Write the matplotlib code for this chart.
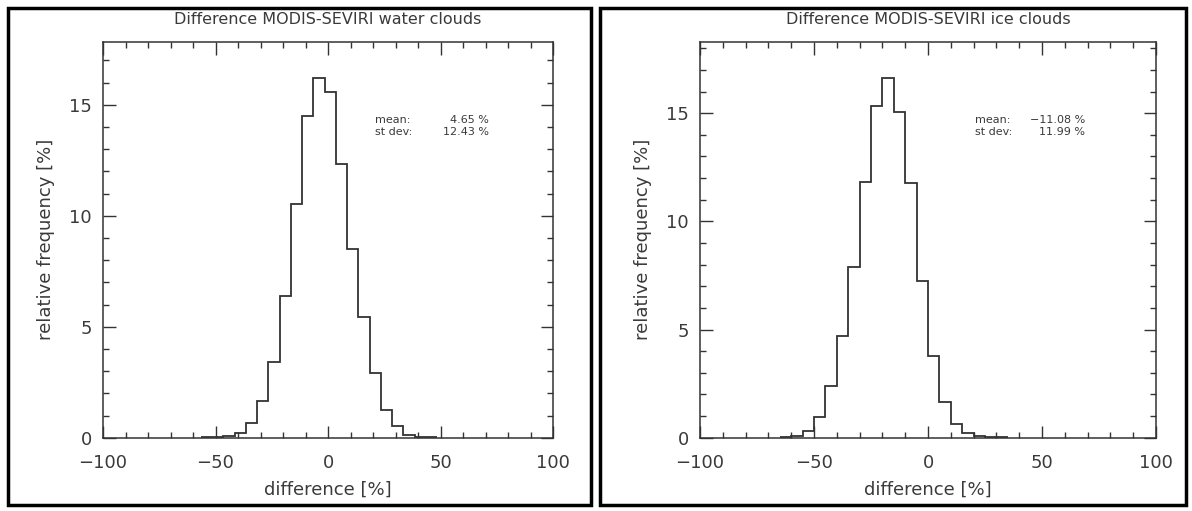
import numpy as np
import matplotlib
matplotlib.use("Agg")
import matplotlib.pyplot as plt
from matplotlib.patches import Rectangle
from matplotlib.ticker import MultipleLocator

# ---- data ----
water_edges = [-56.5, -51.5, -46.5, -41.5, -36.5, -31.5, -26.5, -21.5, -16.5, -11.5, -6.5,
               -1.5, 3.5, 8.5, 13.5, 18.5, 23.5, 28.5, 33.5, 38.5, 43.5, 48.5]
water_freq = [0.01, 0.03, 0.08, 0.22, 0.66, 1.65, 3.39, 6.39, 10.52, 14.51, 16.21,
              15.6, 12.33, 8.52, 5.45, 2.93, 1.27, 0.53, 0.12, 0.04, 0.01]

ice_edges = [-65, -60, -55, -50, -45, -40, -35, -30, -25, -20, -15, -10, -5,
             0, 5, 10, 15, 20, 25, 30, 35]
ice_freq = [0.01, 0.06, 0.33, 0.96, 2.4, 4.68, 7.87, 11.81, 15.33, 16.63, 15.07,
            11.78, 7.24, 3.80, 1.64, 0.63, 0.24, 0.08, 0.03, 0.01]

titles = ["Difference MODIS-SEVIRI water clouds", "Difference MODIS-SEVIRI ice clouds"]
mean_labels = ["4.65 %", "\u221211.08 %"]
std_labels = ["12.43 %", "11.99 %"]
xticks = [-100, -50, 0, 50, 100]
xticklabels = ["\u2212100", "\u221250", "0", "50", "100"]
yticks = [0, 5, 10, 15]

W, H = 1192, 511
fig = plt.figure(figsize=(W / 100, H / 100), dpi=100)
fig.patch.set_facecolor("white")

txtc = "#3a3a3a"
linec = "#333333"

panels = [
    dict(edges=water_edges, freq=water_freq, ax=(103, 42, 553, 437.7), box=(8, 8, 591, 505),
         txt_x=0.605, val_x=0.858),
    dict(edges=ice_edges, freq=ice_freq, ax=(700, 42, 1156, 437.7), box=(600, 8, 1186, 505),
         txt_x=0.603, val_x=0.845),
]

for i, p in enumerate(panels):
    x0, y0, x1, y1 = p["ax"]
    ax = fig.add_axes([x0 / W, 1 - y1 / H, (x1 - x0) / W, (y1 - y0) / H])
    ax.stairs(p["freq"], p["edges"], color=linec, linewidth=1.3, baseline=None)
    ax.set_xlim(-100, 100)
    ax.set_ylim(0, 1.1 * max(p["freq"]))
    ax.set_xticks(xticks)
    ax.set_xticklabels(xticklabels)
    ax.set_yticks(yticks)
    ax.xaxis.set_minor_locator(MultipleLocator(10))
    ax.yaxis.set_minor_locator(MultipleLocator(1))
    ax.tick_params(which="both", direction="in", top=True, right=True, color=linec, width=1.0)
    ax.tick_params(which="major", length=9, labelsize=13, labelcolor=txtc)
    ax.tick_params(axis="x", which="major", pad=12)
    ax.tick_params(axis="y", which="major", pad=8)
    ax.tick_params(which="minor", length=4.5)
    for s in ax.spines.values():
        s.set_color(linec)
        s.set_linewidth(1.1)
    ax.set_xlabel("difference [%]", fontsize=13, color=txtc, labelpad=6)
    ax.set_ylabel("relative frequency [%]", fontsize=13, color=txtc, labelpad=10)
    ax.set_title(titles[i], fontsize=11.5, color=txtc, pad=13)

    # statistics annotation
    ya, yb = 0.803, 0.772
    ax.text(p["txt_x"], ya, "mean:", transform=ax.transAxes, fontsize=8, color=txtc,
            ha="left", va="center")
    ax.text(p["txt_x"], yb, "st dev:", transform=ax.transAxes, fontsize=8, color=txtc,
            ha="left", va="center")
    ax.text(p["val_x"], ya, mean_labels[i], transform=ax.transAxes, fontsize=8, color=txtc,
            ha="right", va="center")
    ax.text(p["val_x"], yb, std_labels[i], transform=ax.transAxes, fontsize=8, color=txtc,
            ha="right", va="center")

    bx0, by0, bx1, by1 = p["box"]
    fig.patches.append(Rectangle((bx0 / W, 1 - by1 / H), (bx1 - bx0) / W, (by1 - by0) / H,
                                 transform=fig.transFigure, fill=False, edgecolor="black",
                                 linewidth=2.5))

fig.savefig("out.png", dpi=100, facecolor="white")
